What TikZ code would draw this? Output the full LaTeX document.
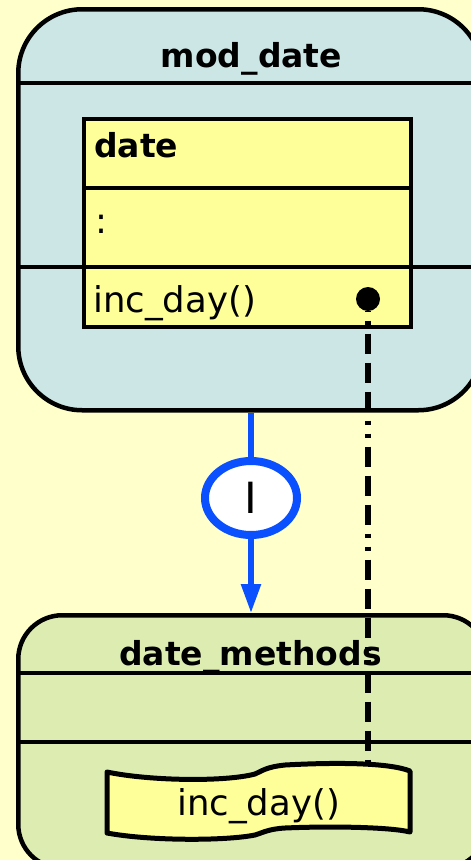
\documentclass[tikz,border=0pt]{standalone}
\usepackage{fontspec}
\setmainfont{DejaVu Sans}
\usetikzlibrary{shapes.geometric,arrows.meta}
\definecolor{bgyellow}{HTML}{FFFFCC}
\definecolor{modfill}{HTML}{CCE5E5}
\definecolor{methfill}{HTML}{DDEDB2}
\definecolor{classfill}{HTML}{FFFF99}
\definecolor{ifblue}{HTML}{0A50FF}
\tikzset{
  pkgbox/.style={draw=black, line width=4.5pt, inner sep=0pt, anchor=north west},
  sepline/.style={draw=black, line width=3.5pt},
  classbox/.style={draw=black, fill=classfill, line width=3.5pt, inner sep=0pt, anchor=north west},
  titletext/.style={inner sep=0pt, anchor=base, font=\fontsize{33pt}{40pt}\selectfont\bfseries},
  bodytext/.style={inner sep=0pt, anchor=base west, font=\fontsize{35.5pt}{40pt}\selectfont},
  ifline/.style={draw=ifblue, line width=5.5pt},
  ifnode/.style={ellipse, draw=ifblue, fill=white, line width=8pt, minimum width=92pt, minimum height=74pt, inner sep=0pt, font=\fontsize{43pt}{46pt}\selectfont},
  depline/.style={draw=black, line width=6pt,
    dash pattern=on 4pt off 9pt on 4pt off 9pt on 20pt off 9pt on 20pt off 9pt on 20pt off 9pt,
    dash phase=3.5pt},
  opshape/.style={draw=black, fill=classfill, line width=5pt, line join=round},
  opdot/.style={circle, fill=black, minimum size=24pt, inner sep=0pt, outer sep=0pt}
}
\begin{document}
\begin{tikzpicture}[x=1pt, y=-1pt]
\useasboundingbox (0,0) rectangle (471,860);
\fill[bgyellow] (0,0) rectangle (471,860);
\clip (0,0) rectangle (471,860);

% package mod_date
\node[pkgbox, fill=modfill, rounded corners=64pt, minimum width=464pt, minimum height=401pt] (moddate) at (16,7) {};
\draw[sepline] (16,83) -- (480,83);
\node[titletext] (modtitle) at (251.5,67) {mod\_date};

% class date inside the package
\node[classbox, minimum width=327pt, minimum height=208pt] (cls) at (82,117) {};
\draw[sepline] (82,188) -- (409,188);
\draw[sepline] (16,267) -- (480,267);
\node[bodytext, font=\fontsize{33pt}{40pt}\selectfont\bfseries] (clsname) at (94,157) {date};
\node[bodytext] (clsattr) at (95,233) {:};
\node[bodytext] (clsop) at (93,312) {inc\_day()};

% package date_methods
\node[pkgbox, fill=methfill, rounded corners=44pt, minimum width=469pt, minimum height=253pt] (methods) at (16,613) {};
\draw[sepline] (16,673) -- (485,673);
\draw[sepline] (16,742) -- (485,742);
\node[titletext] (methtitle) at (250.5,665) {date\_methods};

% operation implementation (wavy box)
\draw[opshape] (107,772) .. controls (150,781) and (225,782) .. (255,774)
  .. controls (262,771) and (266,767) .. (285,765)
  .. controls (340,762) and (390,763) .. (410,771)
  -- (410,832)
  .. controls (390,827) and (330,826) .. (285,828)
  .. controls (268,829) and (262,833) .. (255,835)
  .. controls (225,841) and (150,841) .. (107,833) -- cycle;
\node[inner sep=0pt, anchor=base, font=\fontsize{35.5pt}{40pt}\selectfont] (optext) at (258.5,815) {inc\_day()};
\coordinate (optop) at (368,766);

% interface realisation arrow
\node[ifnode] (iface) at (251,498) {I};
\draw[ifline] (iface |- moddate.south) -- (iface);
\draw[ifline, -{Triangle[width=19pt,length=29pt]}] (iface) -- (iface |- methods.north);

% dependency from the operation to its implementation
\node[opdot] (dot) at (368,299) {};
\draw[depline] (dot) -- (optop);
\end{tikzpicture}
\end{document}
